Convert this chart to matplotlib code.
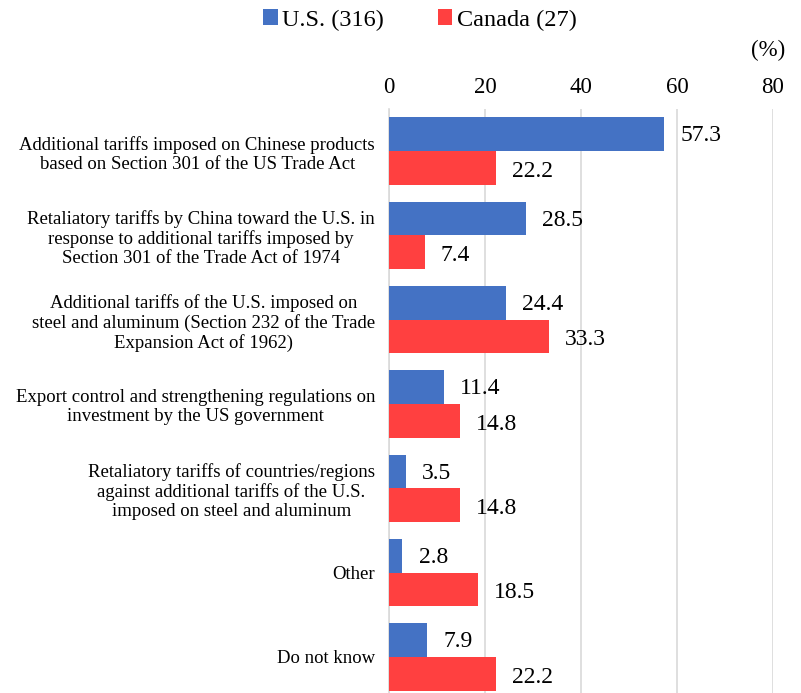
import matplotlib
matplotlib.use("Agg")
import matplotlib.pyplot as plt
import numpy as np

categories = [
    "Additional tariffs imposed on Chinese products\nbased on Section 301 of the US Trade Act",
    "Retaliatory tariffs by China toward the U.S. in\nresponse to additional tariffs imposed by\nSection 301 of the Trade Act of 1974",
    "Additional tariffs of the U.S. imposed on\nsteel and aluminum (Section 232 of the Trade\nExpansion Act of 1962)",
    "Export control and strengthening regulations on\ninvestment by the US government",
    "Retaliatory tariffs of countries/regions\nagainst additional tariffs of the U.S.\nimposed on steel and aluminum",
    "Other",
    "Do not know",
]
us_values = [57.3, 28.5, 24.4, 11.4, 3.5, 2.8, 7.9]
canada_values = [22.2, 7.4, 33.3, 14.8, 14.8, 18.5, 22.2]
series_names = ["U.S. (316)", "Canada (27)"]
x_ticks = [0, 20, 40, 60, 80]

plt.rcParams['font.family'] = ['Liberation Serif', 'DejaVu Serif']

fig = plt.figure(figsize=(8.01, 6.93), dpi=100)
W, H = 801, 693
# axes spans pixel x 389..773, y 109..699 (bottom runs off the canvas)
ax = fig.add_axes([389 / W, 1 - 699 / H, (773 - 389) / W, (699 - 109) / H])

n = len(categories)
y = np.arange(n)
bh = 0.40
blue = "#4472C4"
red = "#FF4040"
ax.barh(y - bh / 2, us_values, height=bh, color=blue, label=series_names[0], zorder=3)
ax.barh(y + bh / 2, canada_values, height=bh, color=red, label=series_names[1], zorder=3)

for yi, v in zip(y, us_values):
    ax.text(v + 3.4, yi - bh / 2 + 0.02, f"{v:.1f}", va="center", ha="left", fontsize=17)
for yi, v in zip(y, canada_values):
    ax.text(v + 3.4, yi + bh / 2 + 0.04, f"{v:.1f}", va="center", ha="left", fontsize=17)

ax.set_xlim(0, 80)
ax.set_ylim(n - 0.5, -0.5)
ax.set_xticks(x_ticks)
ax.xaxis.tick_top()
ax.tick_params(axis="x", length=0, labelsize=16.5, pad=8)
ax.set_yticks(y)
ax.set_yticklabels(categories, fontsize=13.5, multialignment="center", linespacing=1.15)
ax.tick_params(axis="y", length=0, pad=10)
ax.grid(axis="x", color="#D9D9D9", linewidth=1.2, zorder=0)
for s in ["top", "right", "bottom"]:
    ax.spines[s].set_visible(False)
ax.spines["left"].set_color("#D9D9D9")
ax.spines["left"].set_linewidth(1.2)

fig.text(768 / W, 1 - 50 / H, "(%)", ha="center", va="center", fontsize=16.5)

fig.legend(loc="center", bbox_to_anchor=(420 / W, 1 - 20 / H), ncol=2, frameon=False,
           fontsize=17.5, handlelength=0.6, handleheight=0.6, handletextpad=0.2,
           columnspacing=2.2)

fig.savefig("out.png", dpi=100)
